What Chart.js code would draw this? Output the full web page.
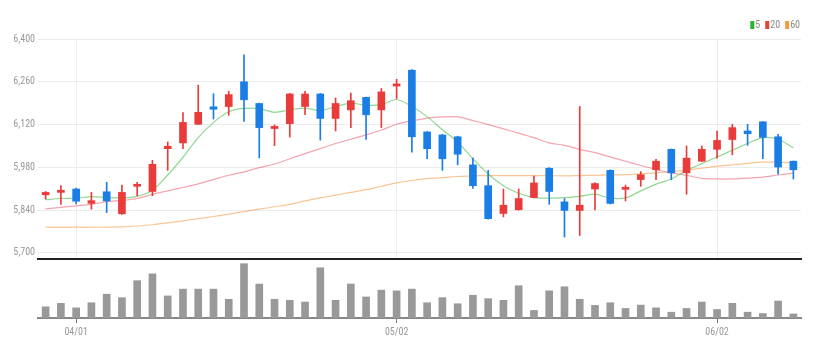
<!DOCTYPE html>
<html>
<head>
<meta charset="utf-8">
<script src="https://cdn.jsdelivr.net/npm/chart.js@4"></script>
<style>
  html, body { margin: 0; padding: 0; background: #fff; }
  #wrap { position: relative; width: 819px; height: 356px; overflow: hidden; }
  #price { position: absolute; left: 0; top: 0; }
  #vol { position: absolute; left: 0; top: 256px; }
</style>
</head>
<body>
<div id="wrap">
  <canvas id="price" width="819" height="268"></canvas>
  <canvas id="vol" width="819" height="100"></canvas>
</div>
<script>
const dates = ['03/28','03/31',
  '04/01','04/02','04/03','04/04','04/07','04/08','04/09','04/10','04/11','04/14','04/15','04/16','04/17','04/18','04/21','04/22','04/23','04/24','04/25','04/28','04/30',
  '05/02','05/05','05/06','05/07','05/08','05/09','05/12','05/13','05/14','05/15','05/16','05/19','05/20','05/21','05/22','05/23','05/26','05/27','05/28','05/29','05/30',
  '06/02','06/03','06/04','06/05','06/09','06/10'];
const tickLabels = ['04/01','05/02','06/02'];
const priceTicks = [5700, 5840, 5980, 6120, 6260, 6400];

const opens  = [5890,5898,5909,5862,5900,5828,5918,5901,6041,6060,6121,6178,6179,6260,6189,6107,6123,6179,6220,6140,6168,6209,6168,6246,6298,6096,6086,6080,5988,5920,5829,5841,5881,5977,5867,5839,5909,5970,5908,5940,5972,6039,5962,6000,6039,6071,6099,6129,6080,6000];
const closes = [5898,5905,5869,5871,5870,5898,5924,5990,6049,6127,6160,6170,6218,6201,6110,6114,6220,6220,6140,6189,6198,6152,6227,6253,6080,6041,6008,6023,5920,5812,5856,5878,5929,5901,5839,5856,5927,5862,5912,5956,6000,5962,6010,6039,6068,6110,6090,6078,5981,5972];
const highs  = [5901,5920,5912,5898,5931,5922,5931,6003,6063,6159,6249,6221,6229,6348,6190,6119,6222,6229,6222,6207,6223,6210,6238,6268,6300,6097,6088,6082,6010,5970,5909,5909,5951,5979,5878,6179,5929,5972,5922,5966,6006,6040,6050,6050,6099,6121,6121,6130,6088,6001];
const lows   = [5876,5859,5860,5843,5832,5826,5887,5887,5970,6041,6120,6138,6150,6130,6011,6051,6079,6152,6069,6099,6110,6071,6110,6205,6030,6008,5970,5988,5911,5810,5818,5840,5880,5859,5752,5757,5841,5860,5870,5918,5940,5940,5892,5999,6010,6021,6052,6008,5958,5942];

const ma5  = [5874,5878,5879,5884,5881,5880,5885,5905,5955,6013,6077,6127,6162,6173,6172,6160,6168,6174,6165,6179,6190,6183,6185,6202,6179,6146,6103,6063,6008,5958,5920,5895,5881,5879,5881,5885,5892,5879,5880,5903,5925,5942,5970,5992,6014,6036,6058,6077,6072,6044];
const ma20 = [5844,5849,5854,5859,5868,5872,5878,5892,5903,5914,5926,5940,5954,5965,5979,5991,6008,6025,6041,6058,6072,6086,6102,6121,6132,6141,6145,6145,6133,6120,6106,6092,6077,6060,6052,6039,6028,6014,6000,5986,5973,5962,5954,5944,5942,5942,5945,5948,5955,5961];
const ma60 = [5784,5784,5784,5784,5784,5785,5788,5792,5798,5805,5812,5819,5827,5835,5843,5851,5859,5870,5880,5889,5898,5907,5918,5929,5937,5943,5946,5950,5952,5953,5953,5953,5953,5953,5952,5953,5954,5955,5956,5959,5962,5966,5971,5977,5984,5988,5993,5997,5997,5995];

const volumes = [110,144,100,150,234,200,367,434,217,284,284,284,184,534,334,184,174,157,494,174,334,207,274,267,
                 284,150,200,140,224,190,174,317,74,267,307,184,124,150,94,127,100,57,94,157,84,144,57,44,167,40];

const UP = '#ea3b3b', DOWN = '#1b7de6';
const FONT = "'Roboto Condensed', 'Liberation Sans Narrow', sans-serif";
const candleColors = opens.map((o, i) => closes[i] >= o ? UP : DOWN);
const tickIdx = tickLabels.map(l => dates.indexOf(l));
const setDateTicks = s => { s.ticks = tickIdx.map(v => ({ value: v })); };

const legendItems = [
  { text: '5',  color: '#2cb52c' },
  { text: '20', color: '#e8403a' },
  { text: '60', color: '#f59a3c' }
];
const legendPlugin = {
  id: 'maLegend',
  afterDraw(chart) {
    const ctx = chart.ctx;
    ctx.save();
    ctx.font = '10px ' + FONT;
    ctx.textBaseline = 'middle';
    const gap = 5;
    let total = 0;
    legendItems.forEach(it => { total += 5 + ctx.measureText(it.text).width; });
    total += gap * (legendItems.length - 1);
    let x = 800 - total;
    legendItems.forEach(it => {
      ctx.fillStyle = it.color;
      ctx.fillRect(x, 21, 4, 8);
      ctx.fillStyle = '#888';
      ctx.fillText(it.text, x + 5, 25.5);
      x += 5 + ctx.measureText(it.text).width + gap;
    });
    ctx.restore();
  }
};

new Chart(document.getElementById('price'), {
  type: 'bar',
  data: {
    labels: dates,
    datasets: [
      { type: 'bar', label: 'body', data: opens.map((o, i) => [o, closes[i]]), backgroundColor: candleColors,
        barThickness: 7, grouped: false, minBarLength: 2, order: 0 },
      { type: 'bar', label: 'wick', data: lows.map((l, i) => [l, highs[i]]), backgroundColor: candleColors,
        barThickness: 1, grouped: false, order: 1 },
      { type: 'line', label: '5', data: ma5, borderColor: 'rgba(70,190,70,0.6)', borderWidth: 1.2, pointRadius: 0, tension: 0.3, order: 2 },
      { type: 'line', label: '20', data: ma20, borderColor: 'rgba(236,90,110,0.55)', borderWidth: 1.2, pointRadius: 0, tension: 0.3, order: 3 },
      { type: 'line', label: '60', data: ma60, borderColor: 'rgba(245,150,60,0.55)', borderWidth: 1.2, pointRadius: 0, tension: 0.3, order: 4 }
    ]
  },
  options: {
    responsive: false,
    animation: false,
    layout: { padding: { top: 39, right: 18, left: 0, bottom: 2 } },
    plugins: { legend: { display: false }, tooltip: { enabled: false } },
    scales: {
      x: {
        offset: true,
        afterBuildTicks: setDateTicks,
        grid: { offset: false, color: '#ededed', drawTicks: false },
        ticks: { display: false },
        border: { display: true, color: '#222', width: 2 }
      },
      y: {
        min: 5680, max: 6400,
        afterBuildTicks: s => { s.ticks = priceTicks.map(v => ({ value: v })); },
        afterFit: s => { s.width = 38; },
        grid: { color: '#ececec', drawTicks: false },
        border: { display: false },
        ticks: { color: '#999', padding: 3, font: { size: 10, family: FONT },
                 callback: v => v.toLocaleString('en-US') }
      }
    }
  },
  plugins: [legendPlugin]
});

new Chart(document.getElementById('vol'), {
  type: 'bar',
  data: {
    labels: dates,
    datasets: [{ label: 'volume', data: volumes, backgroundColor: '#999999', barThickness: 7 }]
  },
  options: {
    responsive: false,
    animation: false,
    layout: { padding: { top: 2, right: 18, left: 38, bottom: 15 } },
    plugins: { legend: { display: false }, tooltip: { enabled: false } },
    scales: {
      x: {
        offset: true,
        afterBuildTicks: setDateTicks,
        grid: { offset: false, drawOnChartArea: false, drawTicks: true, tickLength: 5, tickColor: '#777' },
        border: { display: true, color: '#888', width: 2 },
        ticks: { color: '#999', padding: 3, maxRotation: 0, autoSkip: false, font: { size: 10, family: FONT } }
      },
      y: { display: false, min: 0, max: 590 }
    }
  }
});
</script>
</body>
</html>
